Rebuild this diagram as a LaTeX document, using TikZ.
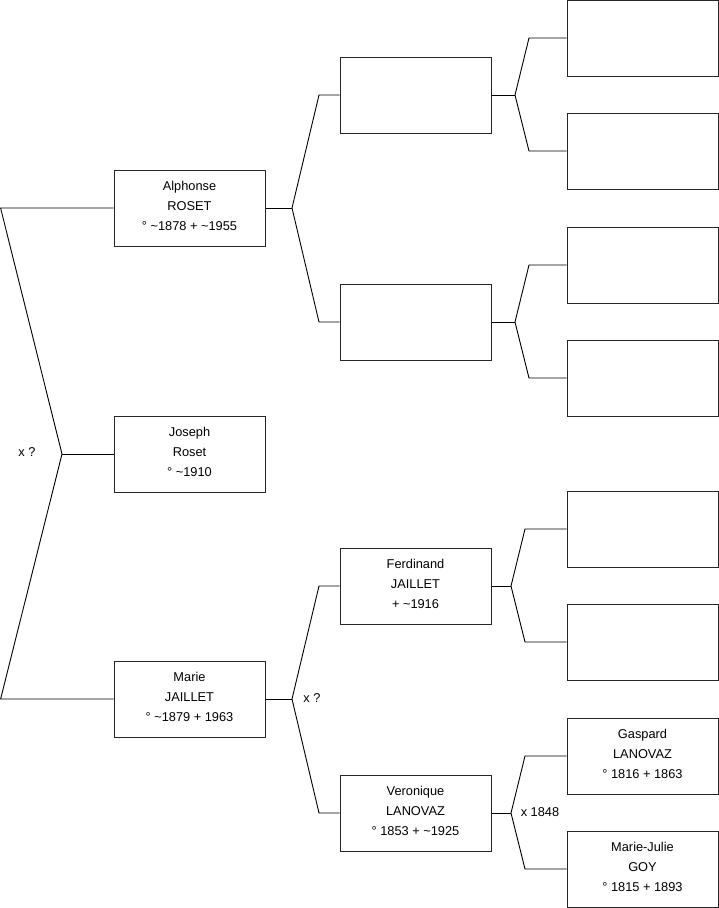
\documentclass[tikz,border=0pt]{standalone}
\usepackage{fontspec}
\setmainfont{Liberation Sans}
\begin{document}
\begin{tikzpicture}[x=1pt,y=-1pt,
  person/.style={draw=black!85,line width=1pt,minimum width=151pt,minimum height=76pt,inner sep=0pt,align=center,font=\fontsize{12.8}{20}\selectfont,text depth=4pt},
  link/.style={draw=black,line width=0.9pt},
  lbl/.style={font=\fontsize{12.8}{14}\selectfont,inner sep=0pt}]
\useasboundingbox (0,0) rectangle (719,908);
% generation 1
\node[person] (alph) at (189.5,208) {Alphonse\\ROSET\\° \textasciitilde1878 + \textasciitilde1955};
\node[person] (jos) at (189.5,454) {Joseph\\Roset\\° \textasciitilde1910};
\node[person] (mar) at (189.5,699) {Marie\\JAILLET\\° \textasciitilde1879 + 1963};
% generation 2
\node[person] (a) at (415.5,95) {};
\node[person] (b) at (415.5,322) {};
\node[person] (ferd) at (415.5,586) {Ferdinand\\JAILLET\\+ \textasciitilde1916};
\node[person] (vero) at (415.5,813) {Veronique\\LANOVAZ\\° 1853 + \textasciitilde1925};
% generation 3
\node[person] (g1) at (642.5,38) {};
\node[person] (g2) at (642.5,151) {};
\node[person] (g3) at (642.5,265) {};
\node[person] (g4) at (642.5,378) {};
\node[person] (g5) at (642.5,529) {};
\node[person] (g6) at (642.5,642) {};
\node[person] (g7) at (642.5,756) {Gaspard\\LANOVAZ\\° 1816 + 1863};
\node[person] (g8) at (642.5,869) {Marie-Julie\\GOY\\° 1815 + 1893};
% fork coordinates
\coordinate (l1) at (0.6,208);
\coordinate (lf) at (62,454);
\coordinate (l2) at (0.6,699);
\coordinate (af) at (292,208);
\coordinate (au) at (319,95);
\coordinate (ad) at (319,322);
\coordinate (mf) at (292,699);
\coordinate (mu) at (319,586);
\coordinate (md) at (319,813);
\coordinate (f1) at (515,95);
\coordinate (f1u) at (529,38);
\coordinate (f1d) at (529,151);
\coordinate (f2) at (515,322);
\coordinate (f2u) at (529,265);
\coordinate (f2d) at (529,378);
\coordinate (f3) at (511,586);
\coordinate (f3u) at (525,529);
\coordinate (f3d) at (525,642);
\coordinate (f4) at (511,813);
\coordinate (f4u) at (525,756);
\coordinate (f4d) at (525,869);
% connectors
\draw[link] (alph.west) -- (l1) -- (lf) -- (l2) -- (mar.west);
\draw[link] (lf) -- (jos.west);
\draw[link] (alph.east) -- (af);
\draw[link] (a.west) -- (au) -- (af) -- (ad) -- (b.west);
\draw[link] (mar.east) -- (mf);
\draw[link] (ferd.west) -- (mu) -- (mf) -- (md) -- (vero.west);
\draw[link] (a.east) -- (f1);
\draw[link] (g1.west) -- (f1u) -- (f1) -- (f1d) -- (g2.west);
\draw[link] (b.east) -- (f2);
\draw[link] (g3.west) -- (f2u) -- (f2) -- (f2d) -- (g4.west);
\draw[link] (ferd.east) -- (f3);
\draw[link] (g5.west) -- (f3u) -- (f3) -- (f3d) -- (g6.west);
\draw[link] (vero.east) -- (f4);
\draw[link] (g7.west) -- (f4u) -- (f4) -- (f4d) -- (g8.west);
% marriage labels
\node[lbl] (m1) at (27,452) {x ?};
\node[lbl] (m2) at (312,698) {x ?};
\node[lbl] (m3) at (540,812) {x 1848};
\end{tikzpicture}
\end{document}
